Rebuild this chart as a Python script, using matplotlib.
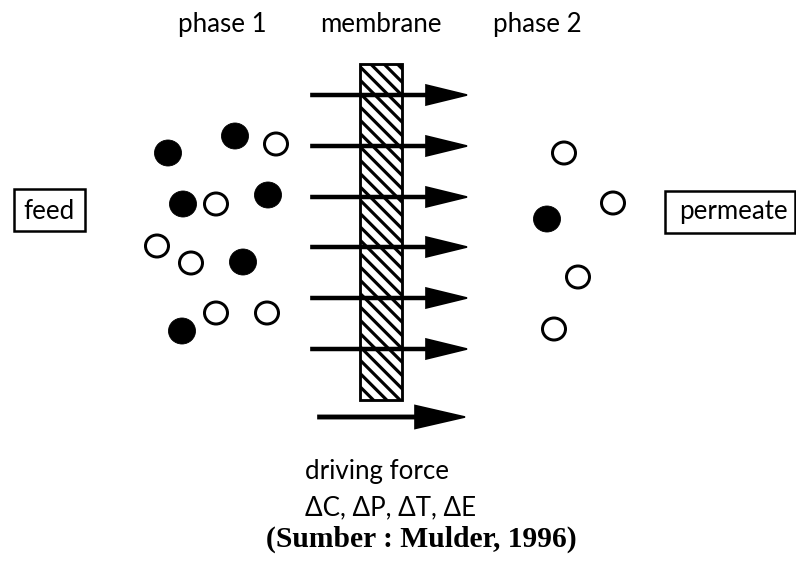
"""
Membrane separation schematic (Mulder, 1996)
    python plot.py
"""

import matplotlib
matplotlib.use('Agg')
import matplotlib.pyplot as plt
from matplotlib.patches import Rectangle, Ellipse

W, H, DPI = 796, 562, 120

# ── data (pixel coordinates of the schematic) ───────────────────────────────
phase1_x      = [168, 235, 276, 183, 216, 268, 157, 191, 243, 216, 267, 182]
phase1_y      = [153, 136, 144, 204, 204, 195, 246, 263, 262, 313, 313, 331]
phase1_filled = [1,   1,   0,   1,   0,   1,   0,   0,   1,   0,   0,   1]

phase2_x      = [564, 613, 547, 578, 554]
phase2_y      = [153, 203, 219, 277, 329]
phase2_filled = [0,   0,   1,   0,   0]

flux_y = [95, 146, 197, 247, 298, 349]

top_labels   = ['phase 1', 'membrane', 'phase 2']
top_labels_x = [222, 381, 537]

BLACK = 'black'
SANS  = ['Lato', 'DejaVu Sans']

matplotlib.rcParams['hatch.linewidth'] = 1.9

fig = plt.figure(figsize=(W / DPI, H / DPI), dpi=DPI)
fig.patch.set_facecolor('white')
ax = fig.add_axes([0, 0, 1, 1])
ax.set_xlim(0, W)
ax.set_ylim(H, 0)
ax.set_aspect('equal')
ax.axis('off')

# membrane
ax.add_patch(Rectangle((360, 64), 42, 336, facecolor='white',
                       edgecolor=BLACK, hatch='\\\\\\', linewidth=1.7, zorder=2))

# particles
def draw_particles(xs, ys, filled):
    for x, y, f in zip(xs, ys, filled):
        if f:
            ax.add_patch(Ellipse((x, y), 27, 26, facecolor=BLACK,
                                 edgecolor=BLACK, linewidth=0.5, zorder=3))
        else:
            ax.add_patch(Ellipse((x, y), 23, 22, facecolor='white',
                                 edgecolor=BLACK, linewidth=1.8, zorder=3))

draw_particles(phase1_x, phase1_y, phase1_filled)
draw_particles(phase2_x, phase2_y, phase2_filled)

# flux arrows through the membrane
for y in flux_y:
    ax.arrow(311, y, 156, 0, width=2.8, head_width=20, head_length=41,
             length_includes_head=True, color=BLACK, zorder=4)

# driving force arrow
ax.arrow(318, 417, 147, 0, width=3.2, head_width=23, head_length=50,
         length_includes_head=True, color=BLACK, zorder=4)

# labels
for lab, x in zip(top_labels, top_labels_x):
    ax.text(x, 32, lab, ha='center', va='baseline', fontsize=15.5,
            family=SANS, color=BLACK)

ax.add_patch(Rectangle((14, 189), 71, 42, facecolor='none',
                       edgecolor=BLACK, linewidth=1.5))
ax.text(49.5, 219, 'feed', ha='center', va='baseline', fontsize=15.5,
        family=SANS, color=BLACK)

ax.add_patch(Rectangle((665, 191), 130, 42, facecolor='none',
                       edgecolor=BLACK, linewidth=1.5))
ax.text(733, 219, 'permeate', ha='center', va='baseline', fontsize=15.5,
        family=SANS, color=BLACK)

ax.text(305, 479, 'driving force', ha='left', va='baseline', fontsize=15.5,
        family=SANS, color=BLACK)
ax.text(305, 515, '\u0394C, \u0394P, \u0394T, \u0394E', ha='left',
        va='baseline', fontsize=15.5, family=SANS, color=BLACK)
ax.text(421, 547, '(Sumber : Mulder, 1996)', ha='center', va='baseline',
        fontsize=17.8, family='Liberation Serif', fontweight='bold',
        color=BLACK)

plt.savefig('out.png', dpi=DPI, facecolor='white')
